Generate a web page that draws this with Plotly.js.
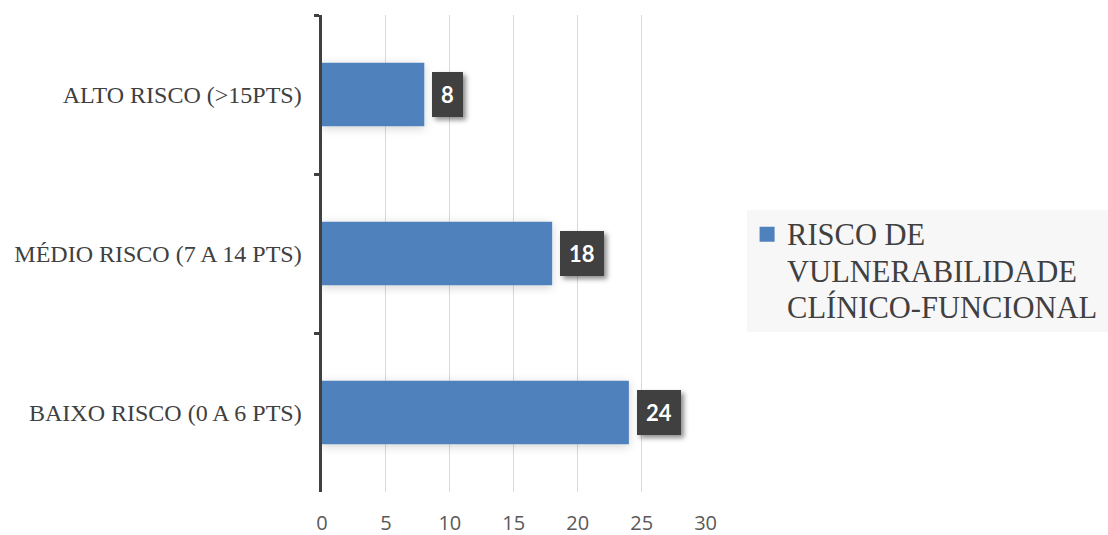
<!DOCTYPE html>
<html>
<head>
<meta charset="utf-8">
<script src="https://cdn.plot.ly/plotly-3.0.1.min.js"></script>
<style>
  html, body { margin: 0; padding: 0; background: #ffffff; }
  #chart { width: 1108px; height: 535px; }
</style>
</head>
<body>
<div id="chart"></div>
<script>
// Categories listed top to bottom
const categories = [
  'ALTO RISCO (>15PTS)',
  'MÉDIO RISCO (7 A 14 PTS)',
  'BAIXO RISCO (0 A 6 PTS)'
];
const values = [8, 18, 24];
const seriesName = 'RISCO DE<br>VULNERABILIDADE<br>CLÍNICO-FUNCIONAL';
const xTicks = [0, 5, 10, 15, 20, 25, 30];

const barColor = '#4F81BD';

const trace = {
  type: 'bar',
  orientation: 'h',
  x: values,
  y: categories,
  name: seriesName,
  marker: { color: barColor, line: { width: 0 } },
  hoverinfo: 'x+y',
  showlegend: true
};

// Dark value boxes just past the end of each bar
const annotations = values.map((v, i) => ({
  x: v,
  y: categories[i],
  xref: 'x',
  yref: 'y',
  text: String(v),
  showarrow: false,
  xanchor: 'left',
  yanchor: 'middle',
  xshift: 8,
  bgcolor: '#404040',
  borderpad: 9,
  borderwidth: 0,
  font: { family: 'Lato, "Open Sans", sans-serif', size: 22, color: '#ffffff', weight: 'bold' }
}));

const layout = {
  width: 1108,
  height: 535,
  margin: { l: 322, r: 402, t: 15, b: 43 },
  paper_bgcolor: '#ffffff',
  plot_bgcolor: '#ffffff',
  bargap: 0.6,
  showlegend: true,
  xaxis: {
    range: [0, 30.03],
    tickvals: xTicks,
    ticktext: xTicks.map(String),
    showgrid: true,
    gridcolor: '#D9D9D9',
    gridwidth: 1,
    zeroline: false,
    showline: false,
    ticks: '',
    ticklabelstandoff: 17,
    tickfont: { family: '"Open Sans", sans-serif', size: 20, color: '#595959' },
    fixedrange: true
  },
  yaxis: {
    type: 'category',
    autorange: 'reversed',
    showgrid: false,
    zeroline: false,
    showline: true,
    linecolor: '#404040',
    linewidth: 3.5,
    ticks: 'outside',
    tickson: 'boundaries',
    ticklen: 5,
    tickwidth: 3,
    tickcolor: '#404040',
    ticklabelstandoff: 12,
    tickfont: { family: '"Liberation Serif", "Times New Roman", serif', size: 24, color: '#404040' },
    fixedrange: true
  },
  legend: {
    x: 1.107,
    xanchor: 'left',
    y: 0.592,
    yanchor: 'top',
    bgcolor: '#F7F7F7',
    borderwidth: 0,
    valign: 'top',
    font: { family: '"Liberation Serif", "Times New Roman", serif', size: 28, color: '#404040' }
  },
  annotations: annotations
};

Plotly.newPlot('chart', [trace], layout, { displayModeBar: false, staticPlot: true }).then(gd => {
  const svg = gd.querySelector('svg.main-svg');
  const ns = 'http://www.w3.org/2000/svg';

  // soft drop shadows for the bars and the value boxes
  let defs = svg.querySelector('defs');
  if (!defs) { defs = document.createElementNS(ns, 'defs'); svg.insertBefore(defs, svg.firstChild); }
  function addShadow(id, dx, dy, sd, op) {
    const f = document.createElementNS(ns, 'filter');
    f.setAttribute('id', id);
    f.setAttribute('x', '-30%'); f.setAttribute('y', '-30%');
    f.setAttribute('width', '160%'); f.setAttribute('height', '160%');
    const s = document.createElementNS(ns, 'feDropShadow');
    s.setAttribute('dx', dx); s.setAttribute('dy', dy);
    s.setAttribute('stdDeviation', sd);
    s.setAttribute('flood-color', '#000000');
    s.setAttribute('flood-opacity', op);
    f.appendChild(s);
    defs.appendChild(f);
  }
  addShadow('boxShadow', 3, 3, 2.5, 0.45);
  addShadow('barShadow', 0, 2, 5, 0.18);
  gd.querySelectorAll('.annotation-text-g rect.bg').forEach(r => r.setAttribute('filter', 'url(#boxShadow)'));
  gd.querySelectorAll('.barlayer .point path').forEach(p => p.setAttribute('filter', 'url(#barShadow)'));

  // legend: larger serif text with tighter line spacing, bigger swatch, box reaching the page edge
  const legText = gd.querySelector('.legend .legendtext');
  if (legText) {
    legText.style.fontSize = '30.5px';
    legText.querySelectorAll('tspan.line').forEach((t, i) => {
      t.setAttribute('dy', (i * 1.19) + 'em');
    });
  }
  gd.querySelectorAll('.legend .legendpoints path').forEach(p => {
    p.setAttribute('d', 'M7.5,7.5H-7.5V-7.5H7.5Z');
  });
  const lg = gd.querySelector('.legend');
  if (lg) {
    const m = /translate\(([-\d.]+)/.exec(lg.getAttribute('transform') || '');
    const left = m ? parseFloat(m[1]) : 747;
    const w = Math.max(0, 1108 - left);
    const bg = lg.querySelector('rect.bg');
    if (bg) { bg.setAttribute('width', w); bg.setAttribute('height', 122); }
    // widen the legend clip region so the full text can show up to the page edge
    lg.querySelectorAll('[clip-path]').forEach(el => {
      const id = /url\(['"]?#([^'")]+)/.exec(el.getAttribute('clip-path'));
      if (!id) return;
      const cp = document.getElementById(id[1]);
      if (cp) cp.querySelectorAll('rect').forEach(r => { r.setAttribute('width', w + 50); r.setAttribute('height', 160); });
    });
  }
});
</script>
</body>
</html>
